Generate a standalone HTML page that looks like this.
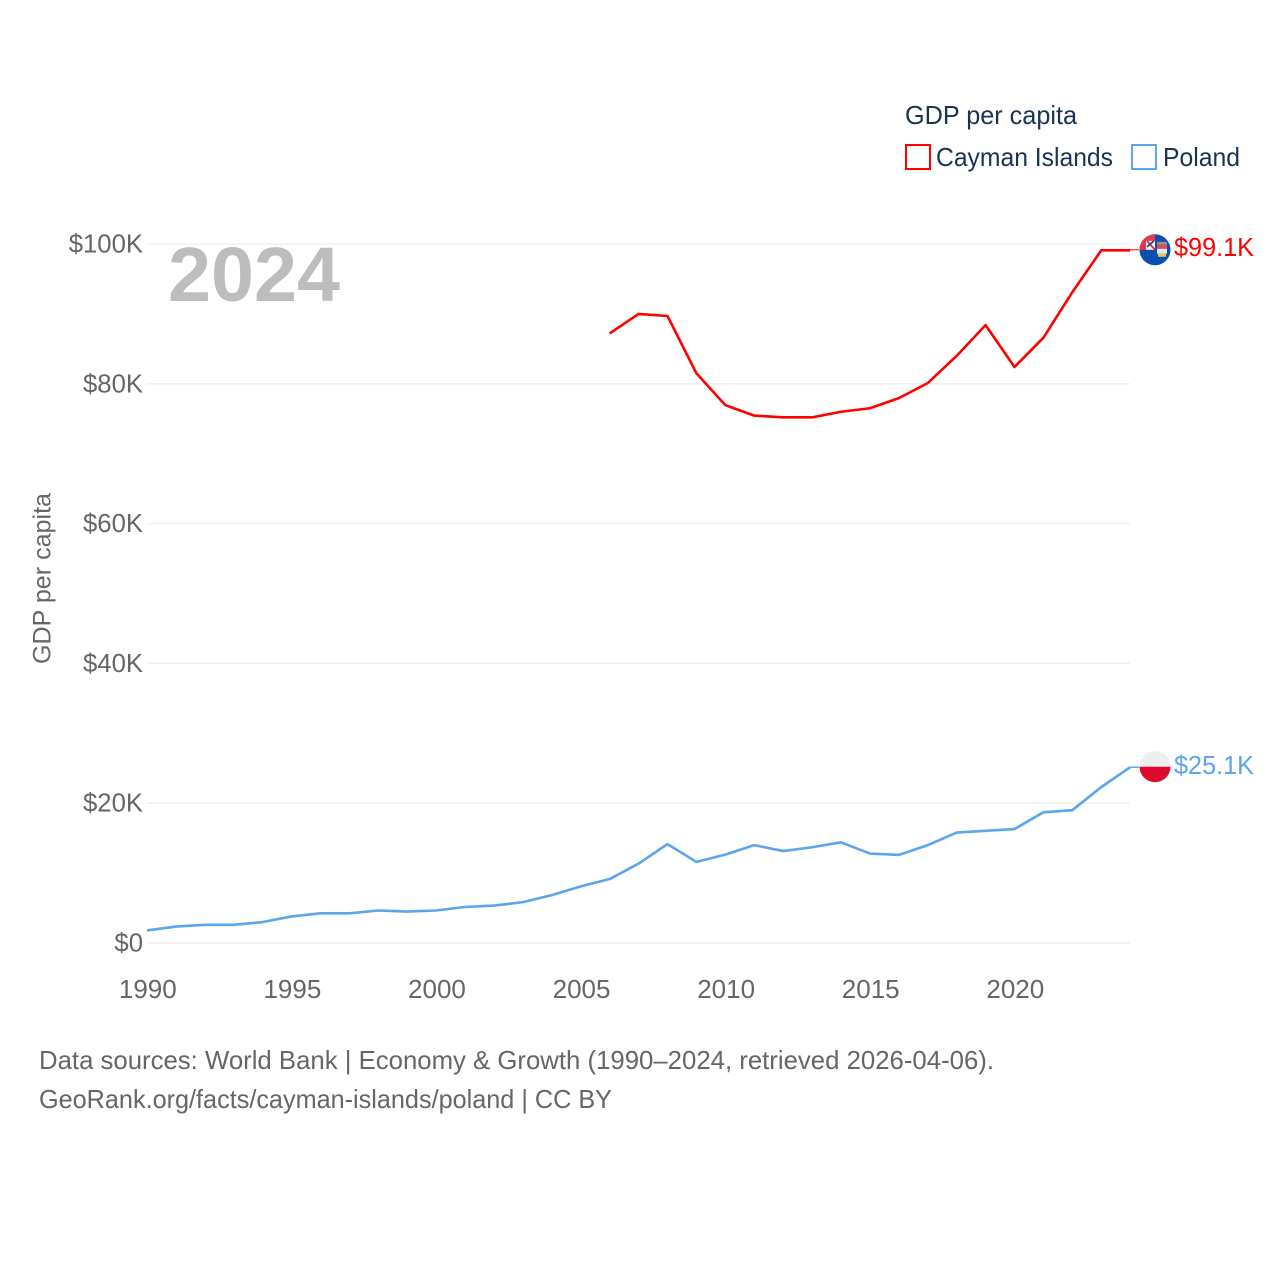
<!DOCTYPE html>
<html lang="en">
<head>
<meta charset="utf-8">
<title>GDP per capita: Cayman Islands and Poland</title>
<style>
html,body{margin:0;padding:0;background:#fff;}
svg{display:block;font-family:"Liberation Sans",sans-serif;}
</style>
</head>
<body>
<svg id="chart" width="1280" height="1280" viewBox="0 0 1280 1280" xmlns="http://www.w3.org/2000/svg">
  <rect width="1280" height="1280" fill="#ffffff"/>
  <g id="grid"></g>
  <g id="yticks"></g>
  <g id="xticks"></g>
  <text x="168" y="301" font-size="77" font-weight="700" fill="#bdbdbd" textLength="172" lengthAdjust="spacingAndGlyphs">2024</text>
  <text transform="translate(50.5 578.5) rotate(-90)" text-anchor="middle" font-size="25" fill="#666666" textLength="171" lengthAdjust="spacingAndGlyphs">GDP per capita</text>
  <g id="series"></g>
  <g id="flags"></g>
  <g>
    <text x="905" y="124" font-size="26" fill="#1b3252" textLength="172" lengthAdjust="spacingAndGlyphs">GDP per capita</text>
    <g>
      <rect x="906" y="145" width="24" height="24" fill="none" stroke="#ff0000" stroke-width="2"/>
      <text x="936" y="166" font-size="26" fill="#1b3252" textLength="177" lengthAdjust="spacingAndGlyphs">Cayman Islands</text>
    </g>
    <g>
      <rect x="1132" y="145" width="24" height="24" fill="none" stroke="#5ba4ee" stroke-width="2"/>
      <text x="1163" y="166" font-size="26" fill="#1b3252" textLength="77" lengthAdjust="spacingAndGlyphs">Poland</text>
    </g>
  </g>
  <text x="39" y="1069" font-size="26" fill="#666666" textLength="955" lengthAdjust="spacingAndGlyphs">Data sources: World Bank | Economy &amp; Growth (1990–2024, retrieved 2026-04-06).</text>
  <text x="39" y="1108" font-size="26" fill="#666666" textLength="573" lengthAdjust="spacingAndGlyphs">GeoRank.org/facts/cayman-islands/poland | CC BY</text>
</svg>
<script>
const years = [1990,1991,1992,1993,1994,1995,1996,1997,1998,1999,2000,2001,2002,2003,2004,2005,2006,2007,2008,2009,2010,2011,2012,2013,2014,2015,2016,2017,2018,2019,2020,2021,2022,2023,2024];
const caymanValues = [null,null,null,null,null,null,null,null,null,null,null,null,null,null,null,null,87.2,90.0,89.7,81.5,76.95,75.45,75.2,75.2,76.0,76.5,77.95,80.1,84.0,88.4,82.4,86.6,93.1,99.1,99.1];
const polandValues = [1.8,2.35,2.6,2.6,3.0,3.8,4.25,4.25,4.65,4.5,4.65,5.15,5.35,5.85,6.85,8.1,9.15,11.35,14.15,11.6,12.65,14.0,13.15,13.7,14.4,12.8,12.6,14.0,15.8,16.05,16.3,18.7,19.0,22.3,25.15];
const yTickValues = [0,20,40,60,80,100];
const yTickLabels = ["$0","$20K","$40K","$60K","$80K","$100K"];
const xTickValues = [1990,1995,2000,2005,2010,2015,2020];
const caymanEndLabel = "$99.1K";
const polandEndLabel = "$25.1K";

const SVG_NS = "http://www.w3.org/2000/svg";
const xScale = function (year) { return 147 + (year - 1990) * (1014.5 - 147) / 30; };
const yScale = function (value) { return 943 - value * 6.99; };

function make(tag, attrs, parent) {
  const el = document.createElementNS(SVG_NS, tag);
  Object.keys(attrs).forEach(function (k) { el.setAttribute(k, attrs[k]); });
  parent.appendChild(el);
  return el;
}

const gridGroup = document.getElementById("grid");
const yTickGroup = document.getElementById("yticks");
yTickValues.forEach(function (value, i) {
  const y = yScale(value);
  const line = make("line", {x1: 147, x2: 1130, y1: y, y2: y, stroke: "#eeeeee", "stroke-width": 1.3}, gridGroup);
  
  
  const label = make("text", {x: 143, y: y + 8.5, "text-anchor": "end", "font-size": 25.7, fill: "#666666"}, yTickGroup);
  
  
  label.textContent = yTickLabels[i];
});

const xTickGroup = document.getElementById("xticks");
xTickValues.forEach(function (year) {
  const label = make("text", {x: xScale(year) + 0.8, y: 998, "text-anchor": "middle", "font-size": 26, fill: "#666666"}, xTickGroup);
  
  
  label.textContent = String(year);
});

function linePoints(values) {
  const pts = [];
  values.forEach(function (v, i) {
    if (v !== null) { pts.push(xScale(years[i]).toFixed(2) + "," + yScale(v).toFixed(2)); }
  });
  return pts.join(" ");
}

const seriesGroup = document.getElementById("series");
const caymanLine = make("polyline", {points: linePoints(caymanValues), fill: "none", stroke: "#ff0000", "stroke-width": 2.6, "stroke-linejoin": "round"}, seriesGroup);


const polandLine = make("polyline", {points: linePoints(polandValues), fill: "none", stroke: "#5ba4ee", "stroke-width": 2.6, "stroke-linejoin": "round"}, seriesGroup);



const flagGroup = document.getElementById("flags");
const lastX = xScale(years[years.length - 1]);
const flagX = 1155;
const caymanEndY = yScale(caymanValues[caymanValues.length - 1]);
const polandEndY = yScale(polandValues[polandValues.length - 1]);

const caymanConnector = make("line", {x1: lastX, x2: flagX - 16, y1: caymanEndY - 0.5, y2: caymanEndY - 0.5, stroke: "#ff0000", "stroke-width": 1}, flagGroup);


const polandConnector = make("line", {x1: lastX, x2: flagX - 16, y1: polandEndY, y2: polandEndY, stroke: "#5ba4ee", "stroke-width": 1.5}, flagGroup);



const cx0 = flagX;
const cy0 = caymanEndY - 0.5;
const py0 = polandEndY - 0.5;
const defs = make("defs", {}, flagGroup);
const clipC = make("clipPath", {id: "clip-cayman"}, defs);
make("circle", {cx: cx0, cy: cy0, r: 15.5}, clipC);
const clipP = make("clipPath", {id: "clip-poland"}, defs);
make("circle", {cx: flagX, cy: py0, r: 15.5}, clipP);

const caymanFlag = make("g", {"clip-path": "url(#clip-cayman)"}, flagGroup);


make("rect", {x: cx0 - 16, y: cy0 - 16, width: 32, height: 32, fill: "#0a4fae"}, caymanFlag);
make("rect", {x: cx0 - 16, y: cy0 - 16, width: 16, height: 16, fill: "#e8364a"}, caymanFlag);
make("rect", {x: cx0 - 9, y: cy0 - 9, width: 9, height: 9, fill: "#f0f0f5"}, caymanFlag);
make("path", {d: "M" + (cx0 - 8) + " " + (cy0 - 9) + "l8 9", stroke: "#d9243c", "stroke-width": 1.6, fill: "none"}, caymanFlag);
make("path", {d: "M" + (cx0 - 1) + " " + (cy0 - 9) + "l-7 6", stroke: "#24478f", "stroke-width": 1.8, fill: "none"}, caymanFlag);
make("rect", {x: cx0 + 2, y: cy0 - 8, width: 10, height: 3, fill: "#9a8f8f"}, caymanFlag);
make("rect", {x: cx0 + 2, y: cy0 - 5, width: 10, height: 4, fill: "#df4a5c"}, caymanFlag);
make("rect", {x: cx0 + 2, y: cy0 - 1, width: 10, height: 5, fill: "#dfe8f4"}, caymanFlag);
make("rect", {x: cx0 + 3, y: cy0 + 4, width: 8, height: 3, fill: "#e6c65a"}, caymanFlag);

const polandFlag = make("g", {"clip-path": "url(#clip-poland)"}, flagGroup);


make("rect", {x: flagX - 16, y: py0 - 16, width: 32, height: 16, fill: "#eeeeee"}, polandFlag);
make("rect", {x: flagX - 16, y: py0, width: 32, height: 16, fill: "#dc0a2d"}, polandFlag);

const caymanValueLabel = make("text", {x: 1174, y: caymanEndY + 5.5, "font-size": 26, fill: "#ff0000", textLength: 80, lengthAdjust: "spacingAndGlyphs"}, flagGroup);


caymanValueLabel.textContent = caymanEndLabel;
const polandValueLabel = make("text", {x: 1174, y: polandEndY + 7, "font-size": 26, fill: "#5ba4ee", textLength: 80, lengthAdjust: "spacingAndGlyphs"}, flagGroup);


polandValueLabel.textContent = polandEndLabel;
</script>
</body>
</html>
